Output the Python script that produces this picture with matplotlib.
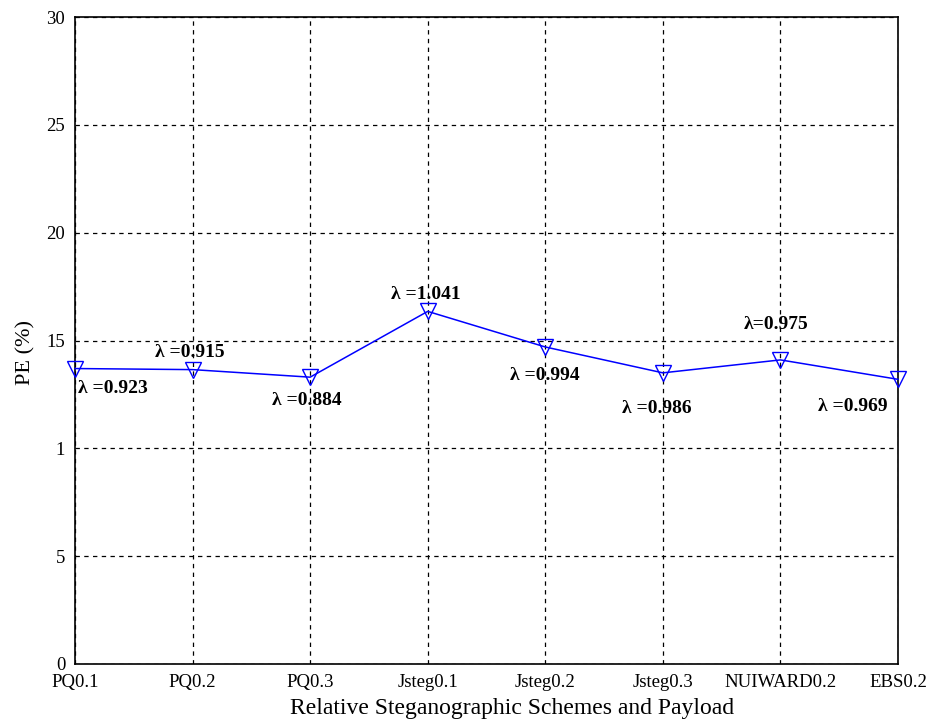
import matplotlib.pyplot as plt
import numpy as np

schemes = ['PQ0.1', 'PQ0.2', 'PQ0.3', 'Jsteg0.1', 'Jsteg0.2', 'Jsteg0.3', 'NUIWARD0.2', 'EBS0.2']
pe = [13.7, 13.65, 13.3, 16.35, 14.7, 13.5, 14.1, 13.2]
lam_labels = ['λ =0.923', 'λ =0.915', 'λ =0.884', 'λ =1.041', 'λ =0.994', 'λ =0.986', 'λ=0.975', 'λ =0.969']
y_ticks = [0, 5, 10, 15, 20, 25, 30]
y_tick_labels = ['0', '5', '1', '15', '20', '25', '30']

# label offsets in pixels from each point
offsets = [(38, -20), (-3, 17), (-3, -23), (-2, 17), (0, -29), (-6, -36), (-4, 35), (-45, -27)]


def main():
    plt.rcParams['font.family'] = ['Liberation Serif', 'DejaVu Serif']
    fig = plt.figure(figsize=(9.34, 7.22), dpi=100)
    ax = fig.add_axes([75 / 934, 1 - 664 / 722, 823 / 934, 647 / 722])

    x = np.arange(len(schemes))
    ax.plot(x, pe, color='blue', linewidth=1.1, marker='v', markersize=11,
            markerfacecolor='none', markeredgecolor='blue', markeredgewidth=1.0,
            clip_on=False, zorder=3)

    for xi, yi, txt, (dx, dy) in zip(x, pe, lam_labels, offsets):
        ax.annotate(txt, (xi, yi), xytext=(dx, dy), textcoords='offset pixels',
                    ha='center', va='center', fontsize=14, fontweight='bold')

    ax.set_xlim(0, len(schemes) - 1)
    ax.set_ylim(0, 30)
    ax.set_xticks(x)
    ax.set_xticklabels(schemes, fontsize=13.5)
    ax.set_yticks(y_ticks)
    ax.set_yticklabels(y_tick_labels, fontsize=13.5)
    ax.tick_params(direction='in', length=0, pad=7)

    ax.grid(True, color='black', linestyle=(0, (3.5, 3.5)), linewidth=0.9)
    for s in ax.spines.values():
        s.set_linewidth(1.2)

    ax.set_xlabel('Relative Steganographic Schemes and Payload', fontsize=17, labelpad=5)
    ax.set_ylabel('PE (%)', fontsize=16, labelpad=8)
    ax.xaxis.label.set_x(0.531)
    ax.yaxis.label.set_y(0.482)

    fig.savefig('out.png', dpi=100)


if __name__ == "__main__":
    main()
